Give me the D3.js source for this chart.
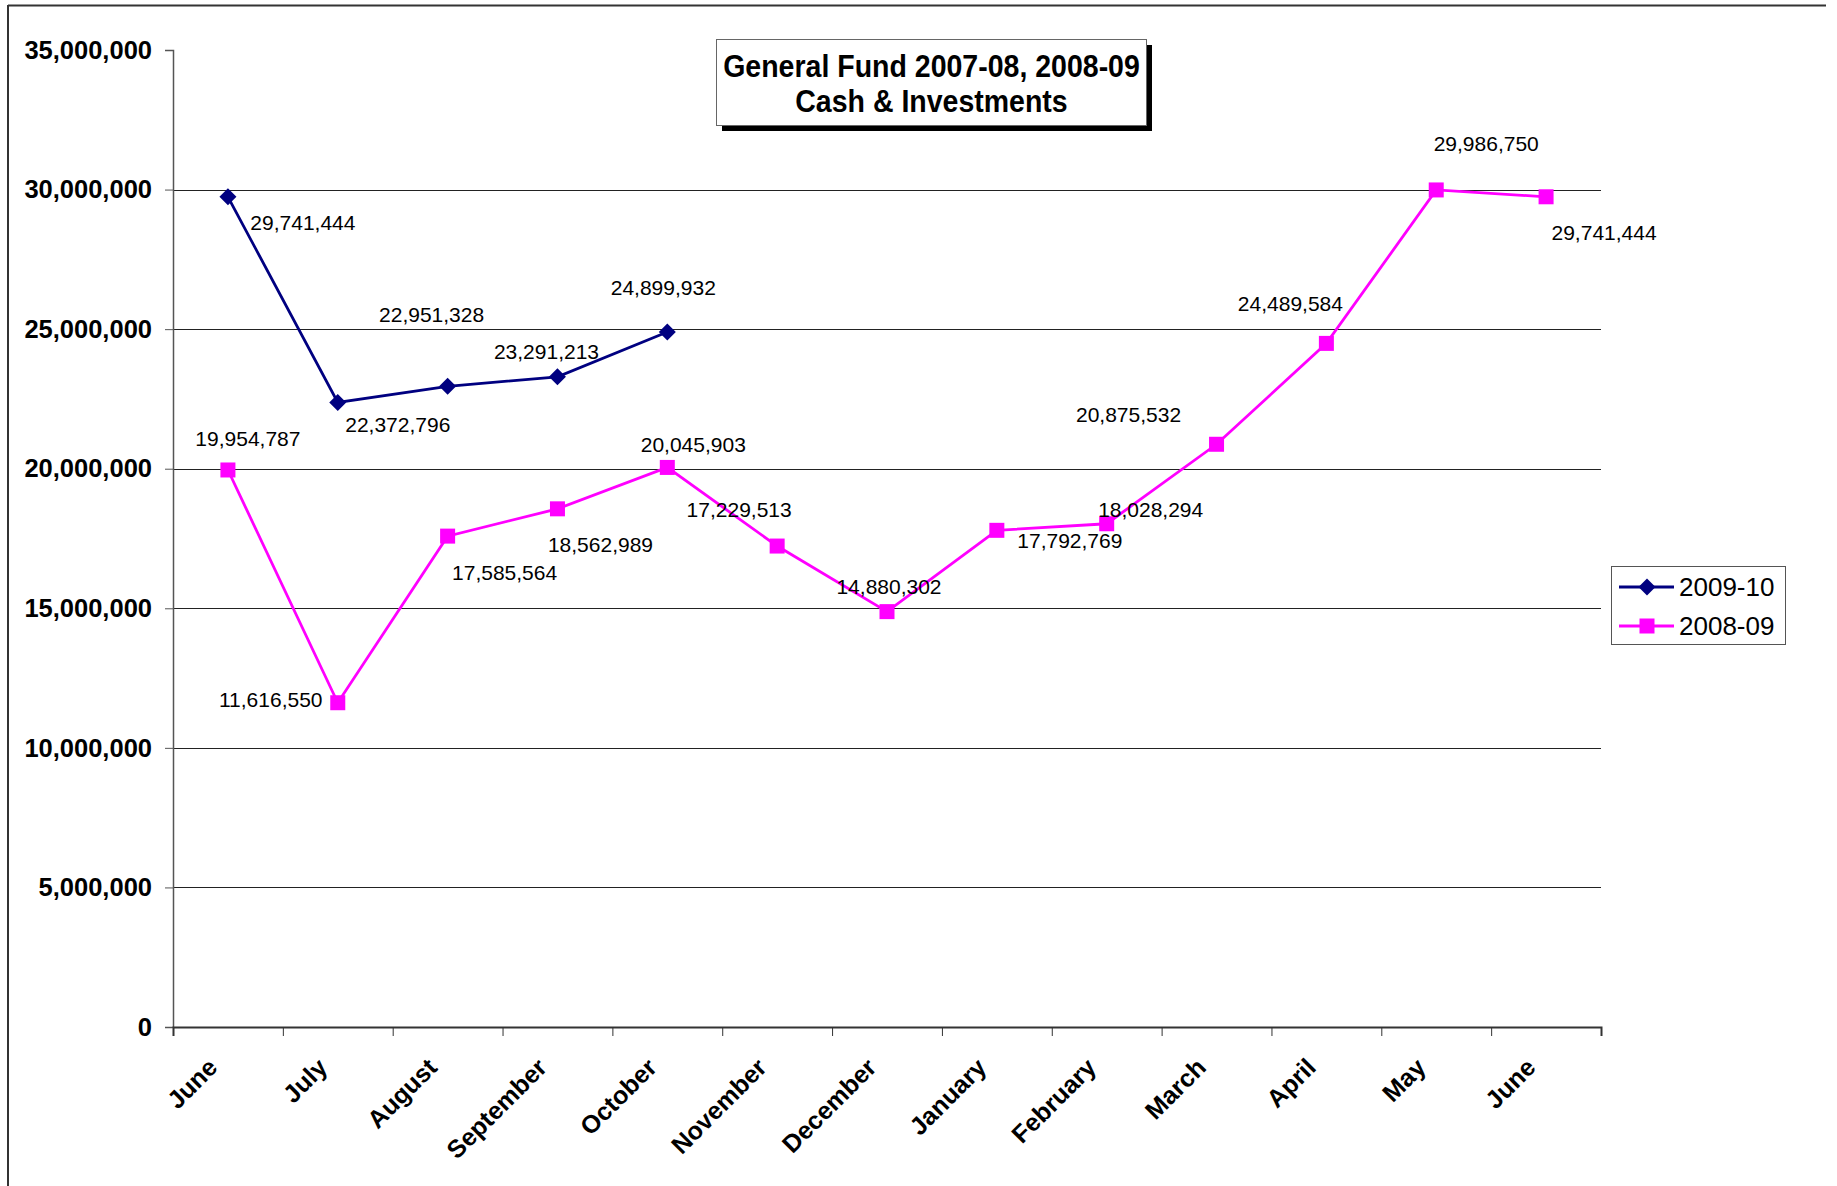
<!DOCTYPE html>
<html>
<head>
<meta charset="utf-8">
<script src="https://cdn.jsdelivr.net/npm/d3@7"></script>
<style>
  html, body { margin: 0; padding: 0; background: #fff; }
  svg { display: block; font-family: "Liberation Sans", Arial, sans-serif; }
</style>
</head>
<body>
<svg id="chart" width="1837" height="1186"></svg>
<script>
// ---- Data ----
const months = ["June", "July", "August", "September", "October", "November", "December",
                "January", "February", "March", "April", "May", "June"];
const series2009 = [29741444, 22372796, 22951328, 23291213, 24899932];
const series2008 = [19954787, 11616550, 17585564, 18562989, 20045903, 17229513, 14880302,
                    17792769, 18028294, 20875532, 24489584, 29986750, 29741444];
const yTicks = [0, 5000000, 10000000, 15000000, 20000000, 25000000, 30000000, 35000000];
const seriesNames = ["2009-10", "2008-09"];
const titleLines = ["General Fund 2007-08, 2008-09", "Cash & Investments"];

// ---- label placement offsets (style, px relative to the point) ----
const off2009 = [[75, 26], [60, 22], [-16, -72], [-11, -25], [-4, -44]];
const off2008 = [[20, -31], [-67, -3], [57, 36], [43, 36], [26, -23], [-38, -37], [2, -25],
                 [73, 10], [44, -14], [-88, -30], [-36, -40], [50, -46], [58, 36]];

// ---- Layout ----
const svg = d3.select("#chart");
const L = 173, R = 1601, T = 50, B = 1027;
const idx = d3.range(months.length);
const x = d3.scaleBand().domain(idx).range([L, R]).padding(0);
const cx = i => x(i) + x.bandwidth() / 2;
const y = d3.scaleLinear().domain([0, 35000000]).range([B, T]);
const fmt = d3.format(",");

// outer frame (partially visible)
svg.append("line").attr("x1", 8).attr("x2", 1826).attr("y1", 5.5).attr("y2", 5.5)
  .attr("stroke", "#333").attr("stroke-width", 2);
svg.append("line").attr("x1", 8).attr("x2", 8).attr("y1", 5).attr("y2", 1186)
  .attr("stroke", "#333").attr("stroke-width", 2);

// gridlines
svg.append("g").selectAll("line")
  .data(yTicks.filter(d => d > 0 && d < 35000000))
  .join("line")
  .attr("x1", L).attr("x2", R)
  .attr("y1", d => Math.round(y(d)) + 0.5).attr("y2", d => Math.round(y(d)) + 0.5)
  .attr("stroke", "#222").attr("stroke-width", 1);

// y axis
const yAxis = svg.append("g").attr("transform", `translate(${L},0)`)
  .call(d3.axisLeft(y).tickValues(yTicks).tickSize(8).tickPadding(13).tickFormat(fmt));
yAxis.select(".domain").attr("stroke", "#555").attr("stroke-width", 1.5);
yAxis.selectAll(".tick line").attr("stroke", "#555");
yAxis.selectAll("text").attr("font-size", 25.5).attr("font-weight", "bold")
  .attr("fill", "#000").attr("font-family", "'Liberation Sans', Arial, sans-serif");

// x axis: boundaries ticks
const xb = d3.scaleLinear().domain([0, months.length]).range([L, R]);
const xAxis = svg.append("g").attr("transform", `translate(0,${B})`)
  .call(d3.axisBottom(xb).tickValues(d3.range(months.length + 1)).tickSize(9).tickFormat(""));
xAxis.select(".domain").attr("stroke", "#333").attr("stroke-width", 2);
xAxis.selectAll(".tick line").attr("stroke", "#333");

// x labels
svg.append("g").selectAll("text")
  .data(idx)
  .join("text")
  .attr("transform", i => `translate(${cx(i) - 9},${B + 42}) rotate(-45)`)
  .attr("text-anchor", "end")
  .attr("font-size", 25)
  .attr("font-weight", "bold")
  .attr("fill", "#000")
  .text(i => months[i]);

// lines
const line = d3.line().x((d, i) => cx(i)).y(d => y(d));
svg.append("path").datum(series2008).attr("d", line)
  .attr("fill", "none").attr("stroke", "#FF00FF").attr("stroke-width", 2.8);
svg.append("path").datum(series2009).attr("d", line)
  .attr("fill", "none").attr("stroke", "#000080").attr("stroke-width", 2.8);

// markers
svg.append("g").selectAll("rect")
  .data(series2008)
  .join("rect")
  .attr("x", (d, i) => cx(i) - 7.5).attr("y", d => y(d) - 7.5)
  .attr("width", 15).attr("height", 15)
  .attr("fill", "#FF00FF");
const diamondPath = "M0,-8.5L8.5,0L0,8.5L-8.5,0Z";
svg.append("g").selectAll("path")
  .data(series2009)
  .join("path")
  .attr("d", diamondPath)
  .attr("transform", (d, i) => `translate(${cx(i)},${y(d)})`)
  .attr("fill", "#000080");

// data labels
function labels(data, offs) {
  svg.append("g").selectAll("text")
    .data(data)
    .join("text")
    .attr("x", (d, i) => cx(i) + offs[i][0])
    .attr("y", (d, i) => y(d) + offs[i][1])
    .attr("text-anchor", "middle")
    .attr("dominant-baseline", "central")
    .attr("font-size", 21)
    .attr("fill", "#000")
    .text(d => fmt(d));
}
labels(series2008, off2008);
labels(series2009, off2009);

// title box
const tb = { x: 716, y: 39, w: 430, h: 86 };
svg.append("rect").attr("x", tb.x + 6).attr("y", tb.y + 6).attr("width", tb.w).attr("height", tb.h)
  .attr("fill", "#000");
svg.append("rect").attr("x", tb.x + 0.5).attr("y", tb.y + 0.5).attr("width", tb.w).attr("height", tb.h)
  .attr("fill", "#fff").attr("stroke", "#666").attr("stroke-width", 1);
svg.append("g").selectAll("text")
  .data(titleLines)
  .join("text")
  .attr("transform", (d, i) => `translate(${tb.x + tb.w / 2 + 0.5},${77 + i * 35}) scale(0.92,1)`)
  .attr("text-anchor", "middle")
  .attr("font-size", 31)
  .attr("font-weight", "bold")
  .attr("fill", "#000")
  .text(d => d);

// legend
const lg = { x: 1611, y: 566, w: 174, h: 78 };
svg.append("rect").attr("x", lg.x + 0.5).attr("y", lg.y + 0.5).attr("width", lg.w).attr("height", lg.h)
  .attr("fill", "#fff").attr("stroke", "#555").attr("stroke-width", 1);
const legendColors = ["#000080", "#FF00FF"];
const lgRows = svg.append("g").selectAll("g")
  .data(seriesNames)
  .join("g")
  .attr("transform", (d, i) => `translate(0,${587 + i * 39})`);
lgRows.append("line").attr("x1", 1619).attr("x2", 1674).attr("y1", 0).attr("y2", 0)
  .attr("stroke", (d, i) => legendColors[i]).attr("stroke-width", 2.8);
lgRows.filter((d, i) => i === 0).append("path")
  .attr("d", diamondPath).attr("transform", "translate(1647,0)").attr("fill", legendColors[0]);
lgRows.filter((d, i) => i === 1).append("rect")
  .attr("x", 1647 - 7.5).attr("y", -7.5).attr("width", 15).attr("height", 15).attr("fill", legendColors[1]);
lgRows.append("text").attr("x", 1679).attr("y", 0)
  .attr("dominant-baseline", "central")
  .attr("font-size", 26).attr("fill", "#000")
  .text(d => d);
</script>
</body>
</html>
